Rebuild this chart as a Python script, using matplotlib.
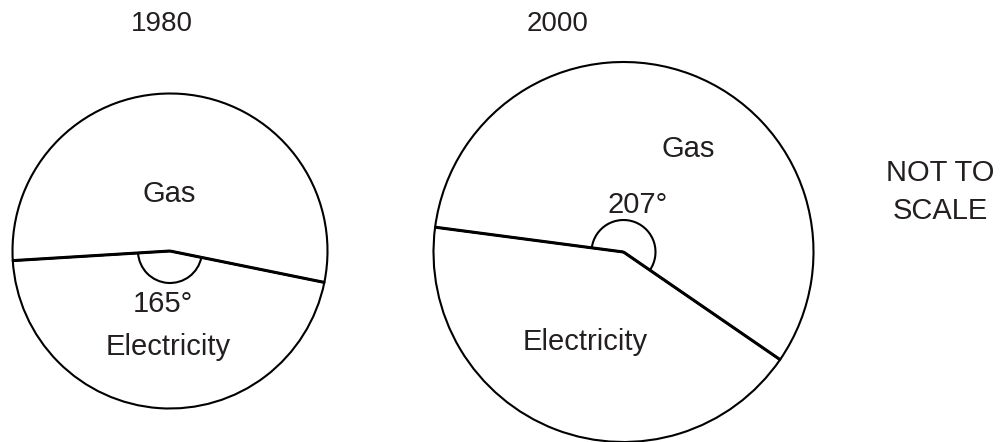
import matplotlib.pyplot as plt
import numpy as np
from matplotlib.patches import Arc

"""
Two pie charts (1980 and 2000), Gas vs Electricity, with the marked sector angle
"""

years = ['1980', '2000']
electricity_deg = [165, 153]
gas_deg = [195, 207]
marked_sector = ['Electricity', 'Gas']
marked_label = ['165°', '207°']

plt.rcParams['font.family'] = ['Liberation Sans', 'DejaVu Sans']

# layout in pixel units, y up
centers = [(170, 191), (623.5, 190)]
radii = [157.5, 190]
elec_start = [183.5, 172.5]   # angle where electricity sector starts (ccw)
title_pos = [(162, 418), (558, 418)]
gas_pos = [(169, 248), (688, 293)]
elec_pos = [(168, 95), (585, 100)]
angle_pos = [(163, 138), (638, 237)]
arc_r = 32

fig = plt.figure(figsize=(10, 4.42), dpi=100)
ax = fig.add_axes([0, 0, 1, 1])

for i in range(2):
    cx, cy = centers[i]
    r = radii[i]
    values = [electricity_deg[i], gas_deg[i]]
    ax.pie(values, center=(cx, cy), radius=r, startangle=elec_start[i],
           counterclock=True, frame=True, colors=['white', 'white'],
           wedgeprops=dict(edgecolor='black', linewidth=1.5))

    # radial lines drawn thicker
    a0 = elec_start[i]
    a1 = elec_start[i] + electricity_deg[i]
    for a in (a0, a1):
        t = np.deg2rad(a)
        ax.plot([cx, cx + r * np.cos(t)], [cy, cy + r * np.sin(t)],
                color='black', lw=2.2, solid_capstyle='butt', zorder=3)

    # small arc marking the labelled angle
    if marked_sector[i] == 'Electricity':
        th1, th2 = a0, a1
    else:
        th1, th2 = a1, a0 + 360
    ax.add_patch(Arc((cx, cy), 2 * arc_r, 2 * arc_r, theta1=th1, theta2=th2,
                     color='black', lw=1.5, zorder=3))

    ax.text(*title_pos[i], years[i], ha='center', va='center', fontsize=20, color='#231f20')
    ax.text(*gas_pos[i], 'Gas', ha='center', va='center', fontsize=21, color='#231f20')
    ax.text(*elec_pos[i], 'Electricity', ha='center', va='center', fontsize=21, color='#231f20')
    ax.text(*angle_pos[i], marked_label[i], ha='center', va='center', fontsize=21, color='#231f20')

ax.text(940, 250, 'NOT TO\nSCALE', ha='center', va='center', fontsize=21,
        linespacing=1.42, color='#231f20')

ax.set_xlim(0, 1000)
ax.set_ylim(0, 442)
ax.set_aspect('equal')
ax.axis('off')

fig.savefig('out.png', dpi=100)
